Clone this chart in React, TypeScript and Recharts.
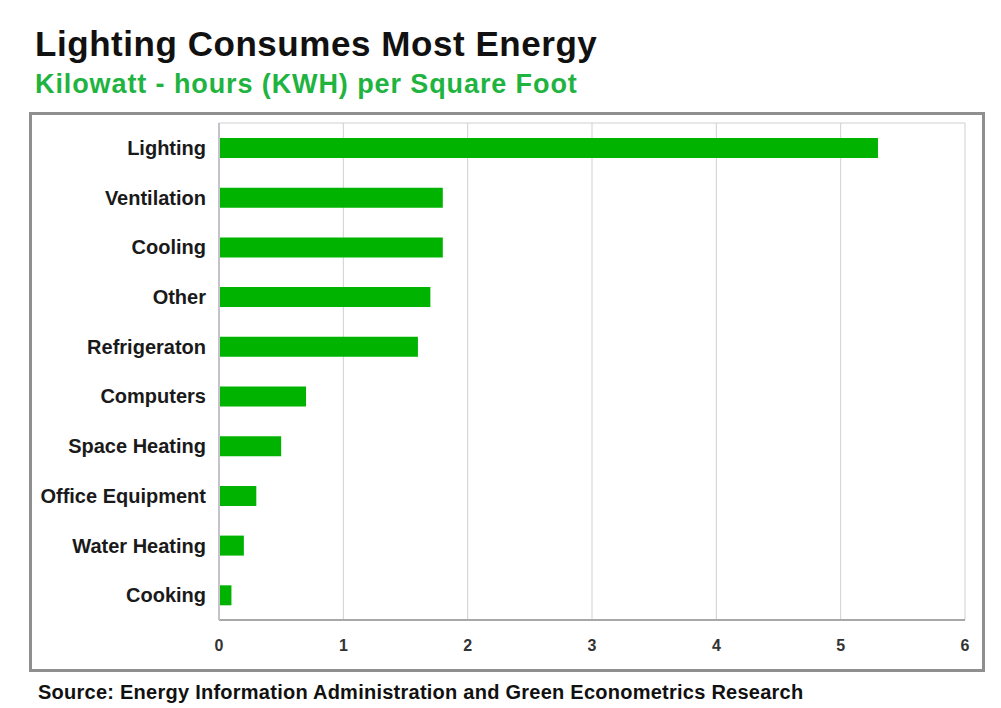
import React from "react";
import { BarChart, Bar, XAxis, YAxis, CartesianGrid } from "recharts";

const categories = [
  "Lighting",
  "Ventilation",
  "Cooling",
  "Other",
  "Refrigeraton",
  "Computers",
  "Space Heating",
  "Office Equipment",
  "Water Heating",
  "Cooking",
];
const kwhValues = [5.3, 1.8, 1.8, 1.7, 1.6, 0.7, 0.5, 0.3, 0.2, 0.1];
const xTicks = [0, 1, 2, 3, 4, 5, 6];

const title = "Lighting Consumes Most Energy";
const subtitle = "Kilowatt - hours (KWH) per Square Foot";
const source = "Source: Energy Information Administration and Green Econometrics Research";

const data = categories.map((name, i) => ({ name, value: kwhValues[i] }));

const FONT = "'Liberation Sans', Arial, Helvetica, sans-serif";

export default function App() {
  return (
    <div
      style={{
        position: "absolute",
        left: 0,
        top: 0,
        width: 1001,
        height: 708,
        background: "#ffffff",
        fontFamily: FONT,
        overflow: "hidden",
      }}
    >
      <div
        style={{
          position: "absolute",
          left: 35,
          top: 26,
          fontSize: 35,
          lineHeight: "35px",
          fontWeight: 700,
          color: "#111111",
          whiteSpace: "nowrap",
          letterSpacing: 0.55,
        }}
      >
        {title}
      </div>
      <div
        style={{
          position: "absolute",
          left: 35,
          top: 71,
          fontSize: 27,
          lineHeight: "27px",
          fontWeight: 700,
          color: "#1fb33f",
          whiteSpace: "nowrap",
          letterSpacing: 0.9,
        }}
      >
        {subtitle}
      </div>
      <div
        style={{
          position: "absolute",
          left: 29,
          top: 112,
          width: 956,
          height: 560,
          border: "3px solid #8f8f8f",
          boxSizing: "border-box",
        }}
      />
      <div style={{ position: "absolute", left: 0, top: 0 }}>
        <BarChart
          width={1001}
          height={708}
          layout="vertical"
          data={data}
          margin={{ top: 123, right: 36, bottom: 58, left: 0 }}
          barCategoryGap={0}
        >
          <CartesianGrid
            stroke="#cfcfcf"
            strokeWidth={1}
            vertical={true}
            horizontal={true}
            horizontalCoordinatesGenerator={({ offset }: any) => [
              offset.top,
              offset.top + offset.height,
            ]}
          />
          <XAxis
            type="number"
            domain={[0, 6]}
            ticks={xTicks}
            interval={0}
            height={30}
            tickSize={0}
            tickMargin={20}
            axisLine={{ stroke: "#a8a8a8", strokeWidth: 2 }}
            tickLine={false}
            tick={{ fill: "#333333", fontSize: 16, fontWeight: 700, fontFamily: FONT }}
          />
          <YAxis
            type="category"
            dataKey="name"
            width={219}
            tickSize={0}
            tickMargin={13}
            interval={0}
            axisLine={{ stroke: "#c6c2cc", strokeWidth: 2 }}
            tickLine={false}
            tick={{ fill: "#1a1a1a", fontSize: 20, fontWeight: 700, fontFamily: FONT }}
          />
          <Bar dataKey="value" fill="#00b300" barSize={20} isAnimationActive={false} />
        </BarChart>
      </div>
      <div
        style={{
          position: "absolute",
          left: 38,
          top: 682,
          fontSize: 20,
          lineHeight: "20px",
          fontWeight: 700,
          color: "#111111",
          whiteSpace: "nowrap",
          letterSpacing: 0.25,
        }}
      >
        {source}
      </div>
    </div>
  );
}
